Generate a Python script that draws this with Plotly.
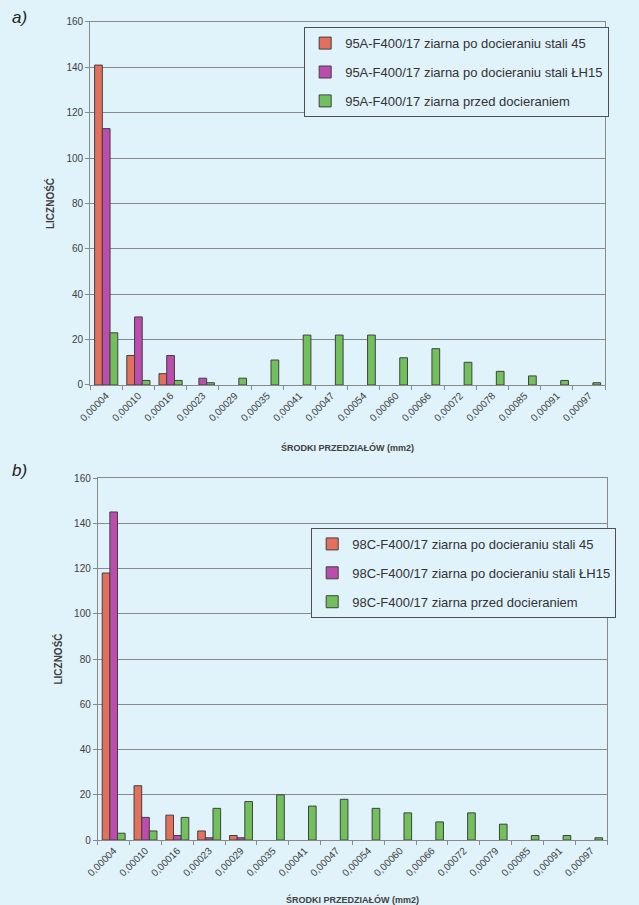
import plotly.graph_objects as go

# Data
cats_a = ["0,00004", "0,00010", "0,00016", "0,00023", "0,00029", "0,00035", "0,00041", "0,00047",
          "0,00054", "0,00060", "0,00066", "0,00072", "0,00078", "0,00085", "0,00091", "0,00097"]
red_a = [141, 13, 5, 0, 0, 0, 0, 0, 0, 0, 0, 0, 0, 0, 0, 0]
mag_a = [113, 30, 13, 3, 0, 0, 0, 0, 0, 0, 0, 0, 0, 0, 0, 0]
green_a = [23, 2, 2, 1, 3, 11, 22, 22, 22, 12, 16, 10, 6, 4, 2, 1]

cats_b = ["0,00004", "0,00010", "0,00016", "0,00023", "0,00029", "0,00035", "0,00041", "0,00047",
          "0,00054", "0,00060", "0,00066", "0,00072", "0,00079", "0,00085", "0,00091", "0,00097"]
red_b = [118, 24, 11, 4, 2, 0, 0, 0, 0, 0, 0, 0, 0, 0, 0, 0]
mag_b = [145, 10, 2, 1, 1, 0, 0, 0, 0, 0, 0, 0, 0, 0, 0, 0]
green_b = [3, 4, 10, 14, 17, 20, 15, 18, 14, 12, 8, 12, 7, 2, 2, 1]

names_a = ["95A-F400/17 ziarna po docieraniu stali 45",
           "95A-F400/17 ziarna po docieraniu stali ŁH15",
           "95A-F400/17 ziarna przed docieraniem"]
names_b = ["98C-F400/17 ziarna po docieraniu stali 45",
           "98C-F400/17 ziarna po docieraniu stali ŁH15",
           "98C-F400/17 ziarna przed docieraniem"]

colors = ["#e2705c", "#bc4cae", "#72c05c"]
bg = "#e0f2fa"
font = "Liberation Sans, Arial, sans-serif"

fig = go.Figure()

# zero counts are drawn as no bar at all
for i, (vals, name, col) in enumerate(zip([red_a, mag_a, green_a], names_a, colors)):
    fig.add_trace(go.Bar(x=cats_a, y=[v if v else None for v in vals], name=name,
                         marker_color=col, marker_line=dict(color="#404040", width=1),
                         xaxis="x", yaxis="y", legend="legend", legendgroup="a%d" % i))

for i, (vals, name, col) in enumerate(zip([red_b, mag_b, green_b], names_b, colors)):
    fig.add_trace(go.Bar(x=cats_b, y=[v if v else None for v in vals], name=name,
                         marker_color=col, marker_line=dict(color="#404040", width=1),
                         xaxis="x2", yaxis="y2", legend="legend2", legendgroup="b%d" % i))

axis_common = dict(showline=True, linecolor="#8a8a8a", linewidth=1, mirror=True,
                   automargin=False,
                   tickfont=dict(size=10, color="#404040", family=font))

xcommon = dict(axis_common, tickangle=-45, ticks="outside", tickson="boundaries",
               ticklen=4, tickcolor="#8a8a8a", showgrid=False,
               title_font=dict(size=9, color="#404040", family=font))
ycommon = dict(axis_common, range=[0, 160], dtick=20, ticks="outside", ticklen=4,
               tickcolor="#8a8a8a", showgrid=True, gridcolor="#8a8a8a", gridwidth=1,
               zeroline=False,
               title_font=dict(size=10, color="#404040", family=font))

legend_common = dict(xanchor="left", yanchor="top", bgcolor=bg, bordercolor="#505050",
                     borderwidth=1, font=dict(size=13, color="#333333", family=font),
                     tracegroupgap=9, itemwidth=30)

fig.update_layout(
    width=639, height=905,
    margin=dict(l=0, r=0, t=0, b=0),
    paper_bgcolor=bg, plot_bgcolor=bg,
    font=dict(family=font, color="#333333"),
    barmode="group", bargap=0.28, bargroupgap=0,
    xaxis=dict(xcommon, domain=[0.141, 0.947], anchor="y",
               title=dict(text="<b>ŚRODKI PRZEDZIAŁÓW (mm2)</b>", standoff=22)),
    yaxis=dict(ycommon, domain=[0.5746, 0.9757], anchor="x",
               title=dict(text="<b>LICZNOŚĆ</b>", standoff=9)),
    xaxis2=dict(xcommon, domain=[0.153, 0.950], anchor="y2",
                title=dict(text="<b>ŚRODKI PRZEDZIAŁÓW (mm2)</b>", standoff=20)),
    yaxis2=dict(ycommon, domain=[0.0718, 0.4718], anchor="x2",
                title=dict(text="<b>LICZNOŚĆ</b>", standoff=9)),
    legend=dict(legend_common, x=0.476, y=0.970),
    legend2=dict(legend_common, x=0.487, y=0.4166),
    annotations=[
        dict(text="<i>a)</i>", x=0.015, y=0.993, xref="paper", yref="paper",
             xanchor="left", yanchor="top", showarrow=False,
             font=dict(size=17, color="#222222", family=font)),
        dict(text="<i>b)</i>", x=0.015, y=0.493, xref="paper", yref="paper",
             xanchor="left", yanchor="top", showarrow=False,
             font=dict(size=17, color="#222222", family=font)),
    ],
)

fig.update_traces(cliponaxis=False)

fig.write_html("out.html", config={"displayModeBar": False},
               post_script="document.body.style.margin='0';document.body.style.background='%s';" % bg)
